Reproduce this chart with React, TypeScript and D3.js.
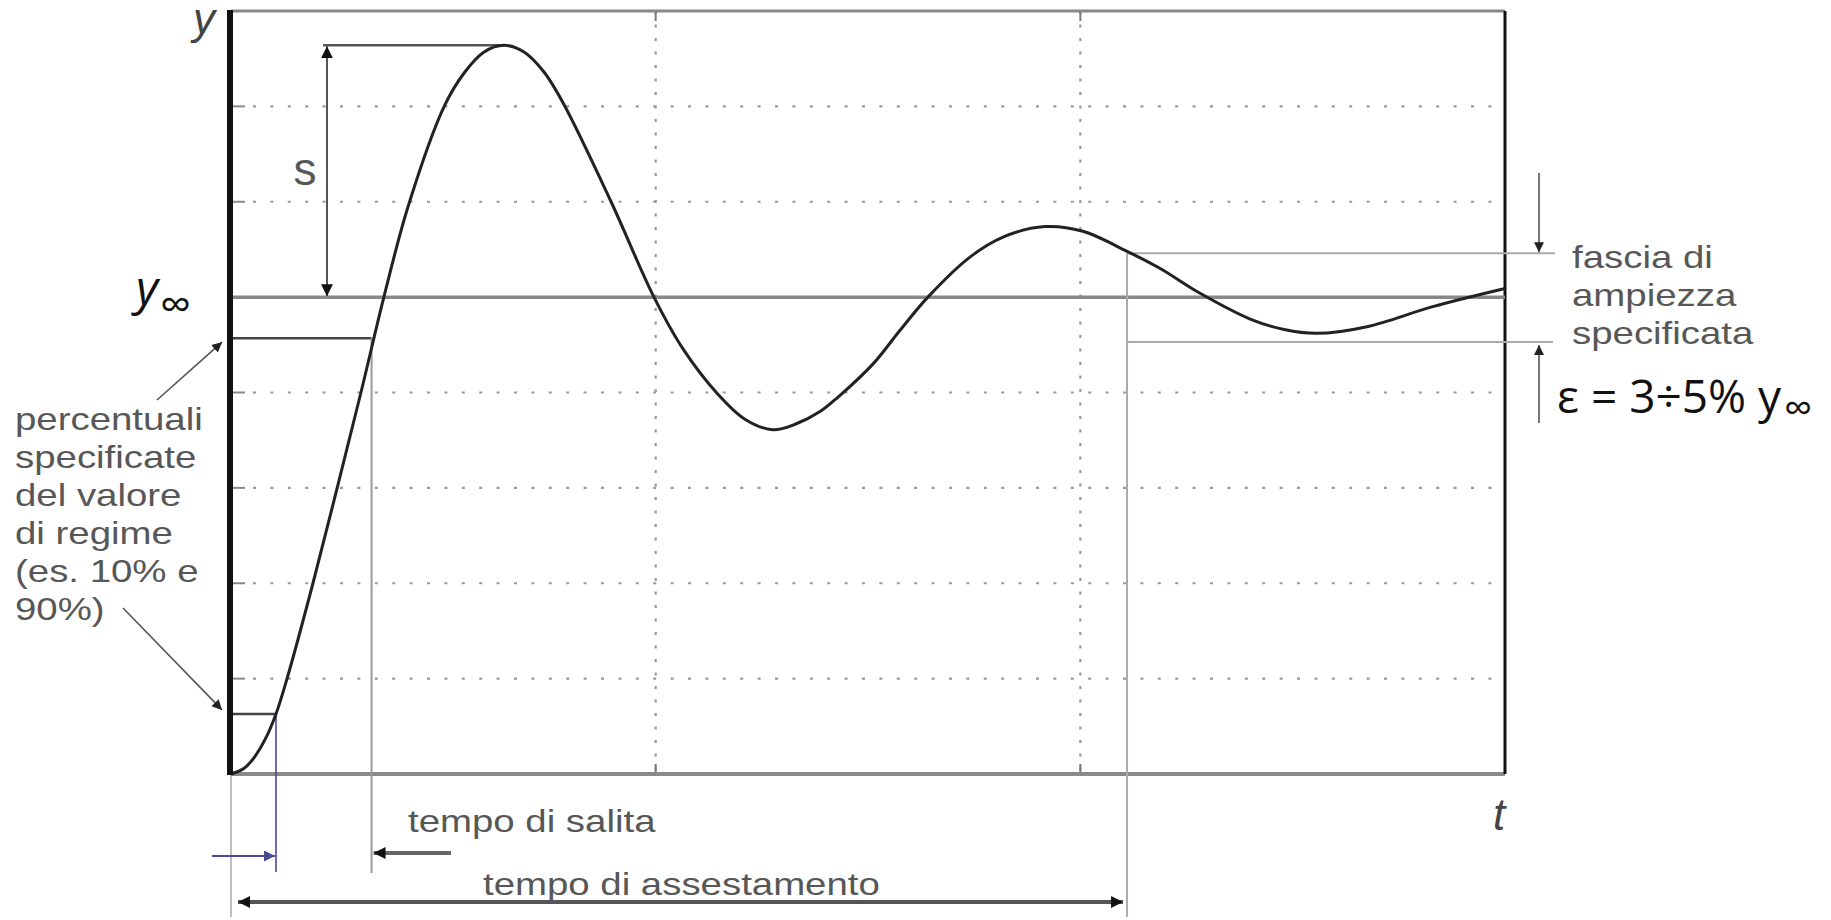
import React from 'react'
import * as d3 from 'd3'

// step response: t in grid columns (0..3), y in grid rows (0..8)
const respT = [0, 0.031, 0.054, 0.08, 0.106, 0.132, 0.193, 0.25, 0.306, 0.36, 0.417, 0.502, 0.549, 0.596, 0.643, 0.69, 0.737, 0.784, 0.895, 0.996, 1.064, 1.147, 1.21, 1.276, 1.33, 1.387, 1.429, 1.512, 1.575, 1.641, 1.74, 1.818, 1.917, 2.006, 2.11, 2.188, 2.282, 2.4, 2.48, 2.557, 2.675, 2.83, 3.0]
const respY = [0, 0.06, 0.17, 0.36, 0.63, 1.0, 2.0, 3.0, 4.0, 5.0, 5.95, 7.0, 7.35, 7.57, 7.64, 7.57, 7.36, 7.02, 6.0, 5.0, 4.46, 3.98, 3.72, 3.61, 3.67, 3.8, 3.95, 4.3, 4.65, 5.0, 5.42, 5.63, 5.74, 5.69, 5.48, 5.3, 5.04, 4.77, 4.66, 4.62, 4.69, 4.9, 5.09]

const gridT = [1, 2]
const gridY = [1, 2, 3, 4, 6, 7]

// reference levels and times
const yInf = 5
const yPeak = 7.64
const tPeak = 0.643
const y10 = 0.63
const y90 = 4.57
const bandHi = 5.46
const bandLo = 4.53
const t10 = 0.106
const t90 = 0.331
const tSettle = 2.11
const tOvershoot = 0.226
const tPeakLine = 0.217

const leftNote = ['percentuali', 'specificate', 'del valore', 'di regime', '(es. 10% e', '90%)']
const bandNote = ['fascia di', 'ampiezza', 'specificata']

const W = 1831
const H = 920
const GRAY_TEXT = '#575757'

function Note({ x, y, children }: { x: number; y: number; children: React.ReactNode }) {
  return (
    <text transform={`translate(${x} ${y}) scale(1.2 1)`} fontFamily="'Liberation Sans', Arial, sans-serif" fontSize={32} fill={GRAY_TEXT}>
      {children}
    </text>
  )
}

export default function App() {
  const x = d3.scaleLinear().domain([0, 3]).range([231, 1505])
  const y = d3.scaleLinear().domain([0, 8]).range([774, 11])

  const line = d3
    .line<number>()
    .x((_, i) => x(respT[i]))
    .y(d => y(d))
    .curve(d3.curveCatmullRom.alpha(0.5))

  const x0 = x(0)
  const x1 = x(3)
  const yTop = y(8)
  const yBot = y(0)
  const below = 917

  return (
    <svg width={W} height={H} viewBox={`0 0 ${W} ${H}`} style={{ position: 'absolute', left: 0, top: 0, display: 'block', background: '#fff' }}>
      <defs>
        <marker id="head" viewBox="0 0 10 10" refX="10" refY="5" markerWidth="12" markerHeight="12" markerUnits="userSpaceOnUse" orient="auto-start-reverse">
          <path d="M0,0 L10,5 L0,10 z" fill="#111" />
        </marker>
        <marker id="headSmall" viewBox="0 0 10 10" refX="10" refY="5" markerWidth="10" markerHeight="10" markerUnits="userSpaceOnUse" orient="auto-start-reverse">
          <path d="M0,0 L10,5 L0,10 z" fill="#222" />
        </marker>
        <marker id="headBlue" viewBox="0 0 10 10" refX="10" refY="5" markerWidth="11" markerHeight="11" markerUnits="userSpaceOnUse" orient="auto">
          <path d="M0,0 L10,5 L0,10 z" fill="#4a4a96" />
        </marker>
      </defs>

      {/* dotted grid */}
      {gridY.map(v => (
        <g key={`gy${v}`}>
          <path d={`M${x0} ${y(v)} H${x0 + 14}`} stroke="#888" strokeWidth={2} />
          <path d={`M${x0 + 22} ${y(v)} H${x1}`} stroke="#999" strokeWidth={2.2} strokeDasharray="3 14.4" />
        </g>
      ))}
      {gridT.map(v => (
        <g key={`gx${v}`}>
          <path d={`M${x(v)} ${yTop} V${yBot}`} stroke="#999" strokeWidth={2.2} strokeDasharray="3 10.5" />
          <path d={`M${x(v)} ${yTop} V${yTop + 10}`} stroke="#777" strokeWidth={2} />
          <path d={`M${x(v)} ${yBot - 10} V${yBot}`} stroke="#777" strokeWidth={2} />
        </g>
      ))}

      {/* frame */}
      <path d={`M${x0} ${yTop} H${x1}`} stroke="#888" strokeWidth={3} />
      <path d={`M${x0} ${yBot} H${x1}`} stroke="#8a8a8a" strokeWidth={4} />
      <path d={`M${x1} ${yTop} V${yBot}`} stroke="#111" strokeWidth={3} />

      {/* steady state, band, overshoot and percentage levels */}
      <path d={`M${x0} ${y(yInf)} H${x1}`} stroke="#888" strokeWidth={3.5} />
      <path d={`M${x(tSettle)} ${y(bandHi)} H${x1 + 50}`} stroke="#aaa" strokeWidth={2} />
      <path d={`M${x(tSettle)} ${y(bandLo)} H${x1 + 48}`} stroke="#aaa" strokeWidth={2} />
      <path d={`M${x(tSettle)} ${y(bandHi)} V${below}`} stroke="#aaa" strokeWidth={2} />
      <path d={`M${x(tPeakLine)} ${y(yPeak)} H${x(tPeak)}`} stroke="#555" strokeWidth={2.5} />
      <path d={`M${x0} ${y(y90)} H${x(t90)}`} stroke="#444" strokeWidth={2.5} />
      <path d={`M${x0} ${y(y10)} H${x(t10)}`} stroke="#444" strokeWidth={2.5} />
      <path d={`M${x(t90)} ${y(y90)} V${873}`} stroke="#999" strokeWidth={2} />
      <path d={`M${x0} ${yBot} V${below}`} stroke="#aaa" strokeWidth={1.5} />
      <path d={`M${x(t10)} ${y(y10)} V${872}`} stroke="#4a4a96" strokeWidth={1.6} />

      {/* overshoot arrow */}
      <path d={`M${x(tOvershoot)} ${y(yPeak) + 1} V${y(yInf) - 1}`} stroke="#555" strokeWidth={2} markerStart="url(#head)" markerEnd="url(#head)" />

      {/* response */}
      <path d={line(respY) ?? ''} fill="none" stroke="#222" strokeWidth={3} strokeLinejoin="round" />

      {/* y axis */}
      <path d={`M${x0 - 1} ${yTop - 1} V${yBot + 1}`} stroke="#111" strokeWidth={6} />

      {/* pointers from the left note */}
      <path d={`M157 400 L${x0 - 9} ${y(y90) + 4}`} stroke="#555" strokeWidth={1.6} markerEnd="url(#headSmall)" />
      <path d={`M123 608 L${x0 - 9} ${y(y10) - 4}`} stroke="#555" strokeWidth={1.6} markerEnd="url(#headSmall)" />

      {/* band arrows */}
      <path d={`M${x1 + 34} 173 V${y(bandHi) - 1}`} stroke="#555" strokeWidth={1.6} markerEnd="url(#headSmall)" />
      <path d={`M${x1 + 34} 423 V${y(bandLo) + 3}`} stroke="#555" strokeWidth={1.6} markerEnd="url(#headSmall)" />

      {/* time arrows */}
      <path d={`M451 853 H${x(t90) + 2}`} stroke="#666" strokeWidth={4} markerEnd="url(#head)" />
      <path d={`M212 856 H${x(t10) - 1}`} stroke="#4a4a96" strokeWidth={2} markerEnd="url(#headBlue)" />
      <path d={`M${x0 + 7} 902 H${x(tSettle) - 4}`} stroke="#555" strokeWidth={4} markerStart="url(#head)" markerEnd="url(#head)" />

      {/* labels */}
      <text x={193} y={34} fontFamily="'Liberation Sans', Arial, sans-serif" fontStyle="italic" fontSize={44} fill="#444">y</text>
      <text x={1493} y={830} fontFamily="'Liberation Sans', Arial, sans-serif" fontStyle="italic" fontSize={44} fill="#444">t</text>
      <text x={305} y={185} textAnchor="middle" fontFamily="'Liberation Sans', Arial, sans-serif" fontSize={46} fill={GRAY_TEXT}>s</text>

      <text x={136} y={305} fontFamily="'Open Sans', sans-serif" fontStyle="italic" fontSize={48} fill="#111">
        y<tspan fontSize={44} dx={2} dy={15} fontStyle="normal">∞</tspan>
      </text>
      <text x={1557} y={413} fontFamily="'Open Sans', sans-serif" fontSize={46} fill="#111">
        ε = 3÷5% y<tspan fontSize={40} dx={3} dy={9}>∞</tspan>
      </text>

      {leftNote.map((s, i) => (
        <Note key={s} x={15} y={430 + i * 38}>{s}</Note>
      ))}
      {bandNote.map((s, i) => (
        <Note key={s} x={1572} y={268 + i * 38}>{s}</Note>
      ))}
      <Note x={408} y={832}>tempo di salita</Note>
      <Note x={483} y={895}>tempo di assestamento</Note>
    </svg>
  )
}
